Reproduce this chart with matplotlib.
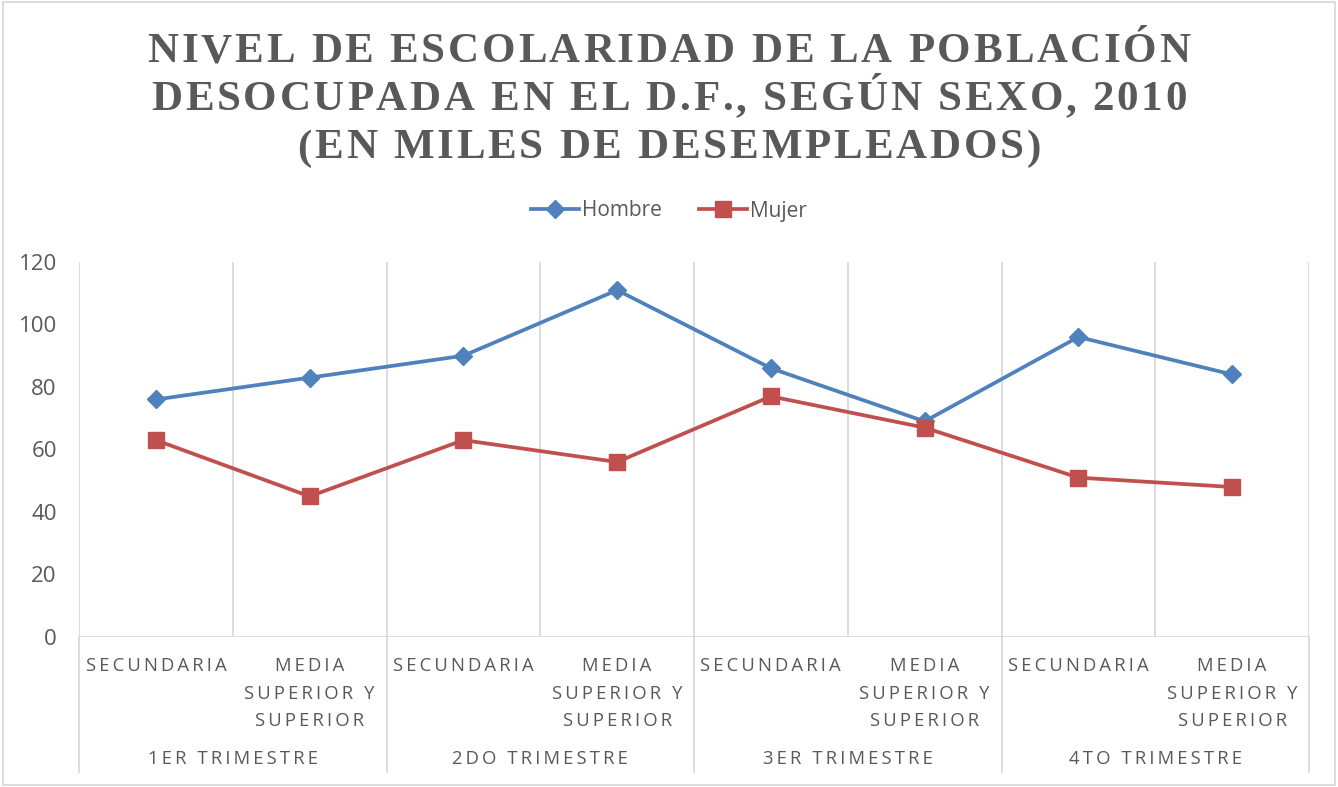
import matplotlib
matplotlib.use("Agg")
import matplotlib.pyplot as plt
import matplotlib.transforms as mtransforms
from matplotlib.lines import Line2D

# unemployed population by schooling level (thousands)
trimestres = ["1ER TRIMESTRE", "2DO TRIMESTRE", "3ER TRIMESTRE", "4TO TRIMESTRE"]
niveles = ["SECUNDARIA", "MEDIA\nSUPERIOR Y\nSUPERIOR"]
hombre = [76, 83, 90, 111, 86, 69, 96, 84]
mujer = [63, 45, 63, 56, 77, 67, 51, 48]

titulo = ["NIVEL DE ESCOLARIDAD DE LA POBLACIÓN",
          "DESOCUPADA EN EL D.F., SEGÚN SEXO, 2010",
          "(EN MILES DE DESEMPLEADOS)"]

AZUL = "#4F81BD"
ROJO = "#C0504D"
GRIS = "#595959"
GRID = "#D9D9D9"
SANS = ["Open Sans", "DejaVu Sans"]
W, H = 1338, 787


def spaced(s, sep="\u2009"):
    # widen letter spacing line by line
    return "\n".join(sep.join(line) for line in s.split("\n"))


def tracked_text(fig, xc, yc, s, tracking, **kw):
    # place glyphs one by one (pixel units) to get letter-spaced text
    r = fig.canvas.get_renderer()

    def width(c):
        t = fig.text(0, 0, c, **kw)
        w = t.get_window_extent(r).width
        t.remove()
        return w

    sp = width("N N") - width("NN")
    ws = [sp if c == " " else width(c) for c in s]
    total = sum(ws) + tracking * (len(s) - 1)
    x = xc - total / 2
    for c, w in zip(s, ws):
        if c != " ":
            fig.text(x / W, 1 - yc / H, c, ha="left", va="center_baseline", **kw)
        x += w + tracking


fig = plt.figure(figsize=(W / 100, H / 100), dpi=100)
ax = fig.add_axes([79 / W, 1 - 637 / H, 1230 / W, 375 / H])

x = list(range(len(hombre)))
ax.plot(x, hombre, color=AZUL, lw=2.7, marker="D", ms=9.5, mec=AZUL, mfc=AZUL,
        solid_joinstyle="round", zorder=3)
ax.plot(x, mujer, color=ROJO, lw=2.7, marker="s", ms=11, mec=ROJO, mfc=ROJO,
        solid_joinstyle="round", zorder=3)

ax.set_xlim(-0.5, len(hombre) - 0.5)
ax.set_ylim(0, 120)
ax.set_yticks(range(0, 121, 20))
ax.set_xticks([])
for s in ax.spines.values():
    s.set_visible(False)
ax.tick_params(axis="y", length=0, pad=16, labelsize=16, labelcolor=GRIS)
for lab in ax.get_yticklabels():
    lab.set_family(SANS)

# category separators inside the plot area
for b in [i - 0.5 for i in range(len(hombre) + 1)]:
    ax.axvline(b, color=GRID, lw=1.3, zorder=1)
ax.axhline(0, color=GRID, lw=1.3, zorder=1)

# two-level category axis below the plot
trans = mtransforms.blended_transform_factory(ax.transData, fig.transFigure)
y_bot = 1 - 772 / H
for g in range(len(trimestres) + 1):
    xb = g * 2 - 0.5
    ax.add_line(Line2D([xb, xb], [1 - 637 / H, y_bot], transform=trans,
                       color=GRID, lw=1.3, clip_on=False))
for i in x:
    ax.text(i, 1 - 657 / H, spaced(niveles[i % 2]), transform=trans,
            ha="center", va="top", fontsize=13.3, color=GRIS, family=SANS,
            linespacing=1.68)
for g, t in enumerate(trimestres):
    ax.text(g * 2 + 0.5, 1 - 759 / H, spaced(t), transform=trans,
            ha="center", va="center", fontsize=13.3, color=GRIS, family=SANS)

# legend
handles = [Line2D([], [], color=AZUL, lw=2.7, marker="D", ms=9.5),
           Line2D([], [], color=ROJO, lw=2.7, marker="s", ms=11)]
fig.legend(handles, ["Hombre", "Mujer"], loc="center",
           bbox_to_anchor=(0.5, 1 - 211 / H), ncol=2, frameon=False,
           prop={"family": SANS, "size": 15}, labelcolor=GRIS,
           handlelength=2.3, handletextpad=0.15, columnspacing=1.8)

# title, letter-spaced serif caps
title_kw = dict(fontsize=31, fontweight="bold", color=GRIS,
                family=["Liberation Serif", "DejaVu Serif"])
for k, line in enumerate(titulo):
    tracked_text(fig, 669, 48 + 48 * k, line, 2.7, **title_kw)

# chart border
fig.patches.append(plt.Rectangle((0.002, 0.002), 0.996, 0.996,
                                 transform=fig.transFigure, fill=False,
                                 ec=GRID, lw=1.3))

fig.savefig("out.png", dpi=100)
